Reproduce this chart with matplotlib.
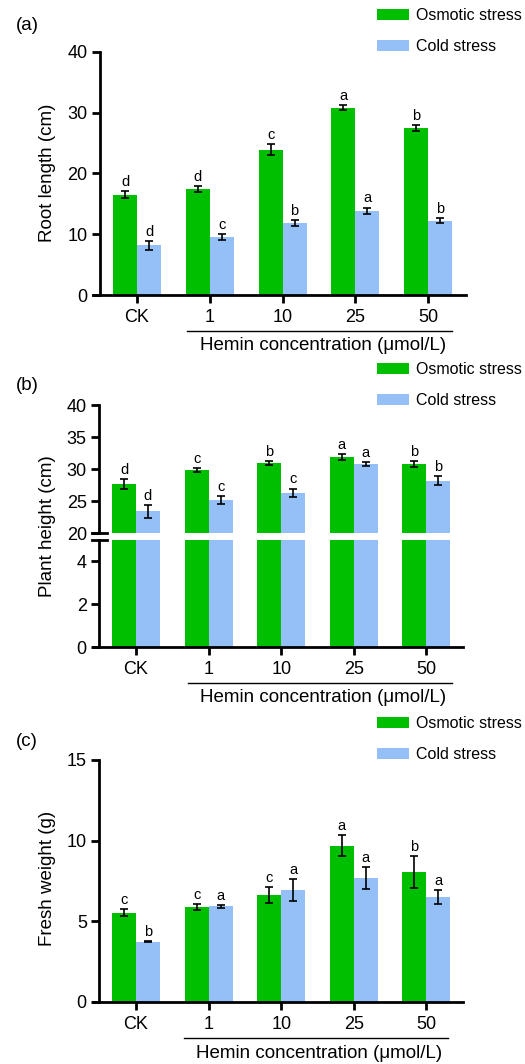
import numpy as np
import matplotlib
matplotlib.use("Agg")
import matplotlib.pyplot as plt
import matplotlib.transforms as mtransforms

plt.rcParams['font.family'] = ['Liberation Sans', 'DejaVu Sans']

groups = ['CK', '1', '10', '25', '50']
series = ['Osmotic stress', 'Cold stress']
colors = ['#00BF00', '#94C0F7']

root_osm = [16.5, 17.5, 23.9, 30.8, 27.5]
root_osm_err = [0.6, 0.5, 0.9, 0.4, 0.5]
root_cold = [8.2, 9.6, 11.9, 13.9, 12.2]
root_cold_err = [0.75, 0.5, 0.5, 0.5, 0.4]
root_osm_sig = ['d', 'd', 'c', 'a', 'b']
root_cold_sig = ['d', 'c', 'b', 'a', 'b']

height_osm = [27.7, 29.9, 30.9, 31.85, 30.8]
height_osm_err = [0.8, 0.3, 0.3, 0.5, 0.45]
height_cold = [23.4, 25.2, 26.3, 30.8, 28.15]
height_cold_err = [1.0, 0.6, 0.65, 0.35, 0.7]
height_osm_sig = ['d', 'c', 'b', 'a', 'b']
height_cold_sig = ['d', 'c', 'c', 'a', 'b']

fresh_osm = [5.53, 5.9, 6.63, 9.69, 8.07]
fresh_osm_err = [0.23, 0.17, 0.48, 0.66, 1.0]
fresh_cold = [3.73, 5.92, 6.92, 7.7, 6.52]
fresh_cold_err = [0.03, 0.08, 0.68, 0.68, 0.42]
fresh_osm_sig = ['c', 'c', 'c', 'a', 'b']
fresh_cold_sig = ['b', 'a', 'a', 'a', 'a']

W, H = 525, 1064
fig = plt.figure(figsize=(W / 100, H / 100), dpi=100)

x = np.arange(len(groups))
bw = 0.33
TICK_FS = 13
LABEL_FS = 13.5
LEG_FS = 11.5
SIG_FS = 10.5


def px_axes(left, top, right, bottom):
    return fig.add_axes([left / W, 1 - bottom / H, (right - left) / W, (bottom - top) / H])


def style(ax, xlim, yspine):
    ax.set_xlim(*xlim)
    for s in ['top', 'right']:
        ax.spines[s].set_visible(False)
    for s in ['left', 'bottom']:
        ax.spines[s].set_linewidth(2.0)
    ax.spines['left'].set_position(('data', yspine))
    ax.tick_params(axis='both', width=2.0, length=6, labelsize=TICK_FS)
    ax.tick_params(axis='x', pad=4)
    ax.tick_params(axis='y', pad=3)


def bars(ax, osm, osm_err, cold, cold_err, osm_sig, cold_sig, show_err=True):
    vals = [(osm, osm_err, osm_sig), (cold, cold_err, cold_sig)]
    for k, (v, e, sig) in enumerate(vals):
        xs = x + (k - 0.5) * bw
        ax.bar(xs, v, bw, color=colors[k], label=series[k], zorder=2)
        if show_err:
            ax.errorbar(xs, v, yerr=e, fmt='none', ecolor='black', elinewidth=1.2,
                        capsize=2.8, capthick=1.2, zorder=3)
            for xi, vi, ei, s in zip(xs, v, e, sig):
                ax.annotate(s, (xi, vi + ei), xytext=(0, 1.5), textcoords='offset points',
                            ha='center', va='bottom', fontsize=SIG_FS)


def hemin_label(ax, x0, x1):
    tl = mtransforms.offset_copy(ax.get_xaxis_transform(), fig=fig, y=-36, units='dots')
    ax.plot([x0, x1], [0, 0], color='black', lw=1.0, transform=tl, clip_on=False)
    tt = mtransforms.offset_copy(ax.get_xaxis_transform(), fig=fig, y=-51, units='dots')
    ax.text((x0 + x1) / 2 + 0.04, 0, 'Hemin concentration (μmol/L)', transform=tt,
            ha='center', va='center', fontsize=LABEL_FS)


def legend(ax, top):
    ax.legend(loc='upper left', bbox_to_anchor=(377 / W, 1 - top / H),
              bbox_transform=fig.transFigure, frameon=False, fontsize=LEG_FS,
              handlelength=2.0, handleheight=0.65, handletextpad=0.45,
              labelspacing=1.0, borderpad=0, borderaxespad=0)


def ylabel(text, ycenter):
    fig.text(47 / W, 1 - ycenter / H, text, rotation=90, fontsize=LABEL_FS,
             ha='center', va='center')


# (a) root length
xl = (-0.605, 4.52)
ax = px_axes(93, 52, 466, 295)
bars(ax, root_osm, root_osm_err, root_cold, root_cold_err, root_osm_sig, root_cold_sig)
style(ax, xl, -0.509)
ax.set_ylim(0, 40)
ax.set_yticks([0, 10, 20, 30, 40])
ax.set_xticks(x, groups)
ylabel('Root length (cm)', 173)
hemin_label(ax, 0.69, 4.33)
legend(ax, 8)
fig.text(27 / W, 1 - 25 / H, '(a)', fontsize=13.5, ha='center', va='center')

# (b) plant height, broken y axis
xl = (-0.592, 4.504)
ax_top = px_axes(93, 405, 463, 533)
ax_bot = px_axes(93, 540, 463, 647)
for a in (ax_top, ax_bot):
    bars(a, height_osm, height_osm_err, height_cold, height_cold_err,
         height_osm_sig, height_cold_sig, show_err=(a is ax_top))
    style(a, xl, -0.505)
ax_top.set_ylim(20, 40)
ax_top.set_yticks([20, 25, 30, 35, 40])
ax_top.spines['bottom'].set_visible(False)
ax_top.tick_params(axis='x', bottom=False, labelbottom=False)
ax_bot.set_ylim(0, 5)
ax_bot.set_yticks([0, 2, 4])
ax_bot.set_xticks(x, groups)
for a, yy in ((ax_top, 0), (ax_bot, 1)):
    a.plot([-0.505 - 0.1, -0.505 + 0.1], [yy, yy], color='black', lw=2.0,
           transform=a.get_xaxis_transform(), clip_on=False, zorder=5)
ylabel('Plant height (cm)', 526)
hemin_label(ax_bot, 0.71, 4.35)
legend(ax_top, 362)
fig.text(27 / W, 1 - 385 / H, '(b)', fontsize=13.5, ha='center', va='center')

# (c) fresh weight
ax = px_axes(93, 760, 463, 1002)
bars(ax, fresh_osm, fresh_osm_err, fresh_cold, fresh_cold_err, fresh_osm_sig, fresh_cold_sig)
style(ax, xl, -0.505)
ax.set_ylim(0, 15)
ax.set_yticks([0, 5, 10, 15])
ax.set_xticks(x, groups)
ylabel('Fresh weight (g)', 878)
hemin_label(ax, 0.66, 4.30)
legend(ax, 716)
fig.text(27 / W, 1 - 742 / H, '(c)', fontsize=13.5, ha='center', va='center')

fig.savefig('out.png', dpi=100)
